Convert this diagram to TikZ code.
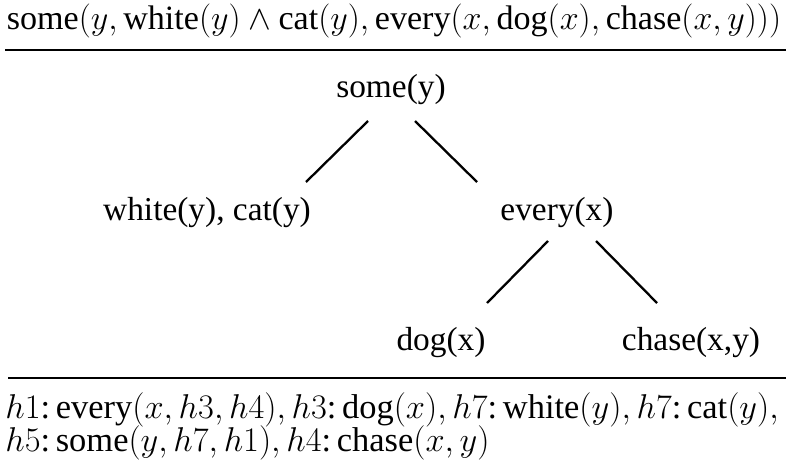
\documentclass[tikz,border=0pt]{standalone}
\usepackage{fix-cm}
\usepackage{fontspec}
\setmainfont{Liberation Serif}
\usetikzlibrary{calc}
\tikzset{
  treenode/.style={inner sep=0pt,anchor=base,font=\fontsize{19}{22}\selectfont},
  formula/.style={inner sep=0pt,anchor=base,font=\fontsize{19.6}{23}\selectfont},
  topformula/.style={inner sep=0pt,anchor=base,font=\fontsize{19.4}{23}\selectfont},
  branch/.style={line width=1.3pt,draw=black},
  rulebar/.style={line width=1.6pt,draw=black}
}
\begin{document}
\begin{tikzpicture}[x=0.02cm,y=-0.02cm]
\useasboundingbox (0,0) rectangle (786,470);
% top formula
\node[topformula] (top) at (394,30) {some$(y,$\,white$(y)\wedge{}$cat$(y),$\,every$(x,$\,dog$(x),$\,chase$(x,y)))$};
\coordinate (r1l) at (5,50); \coordinate (r1r) at (786,50);
\draw[rulebar] (r1l) -- (r1r);
% tree
\node[treenode] (root) at (391,97) {some(y)};
\node[treenode] (white) at (207,220) {white(y), cat(y)};
\node[treenode] (every) at (557,220) {every(x)};
\node[treenode] (dog) at (441,350) {dog(x)};
\node[treenode] (chase) at (691,350) {chase(x,y)};
\draw[branch] ($(root.base)+(-23,24)$) -- ($(white.base)+(99,-38)$);
\draw[branch] ($(root.base)+(24,24)$) -- ($(every.base)+(-80,-38)$);
\draw[branch] ($(every.base)+(-9,21)$) -- ($(dog.base)+(46,-47)$);
\draw[branch] ($(every.base)+(39,21)$) -- ($(chase.base)+(-34,-47)$);
\coordinate (r2l) at (8,378); \coordinate (r2r) at (786,378);
\draw[rulebar] (r2l) -- (r2r);
% flat representation
\node[formula,anchor=base west] (flat1) at (5,418) {$h1$:\,every$(x,h3,h4),h3$:\,dog$(x),h7$:\,white$(y),h7$:\,cat$(y),$};
\node[formula,anchor=base west] (flat2) at (5,451) {$h5$:\,some$(y,h7,h1),h4$:\,chase$(x,y)$};
\end{tikzpicture}
\end{document}
